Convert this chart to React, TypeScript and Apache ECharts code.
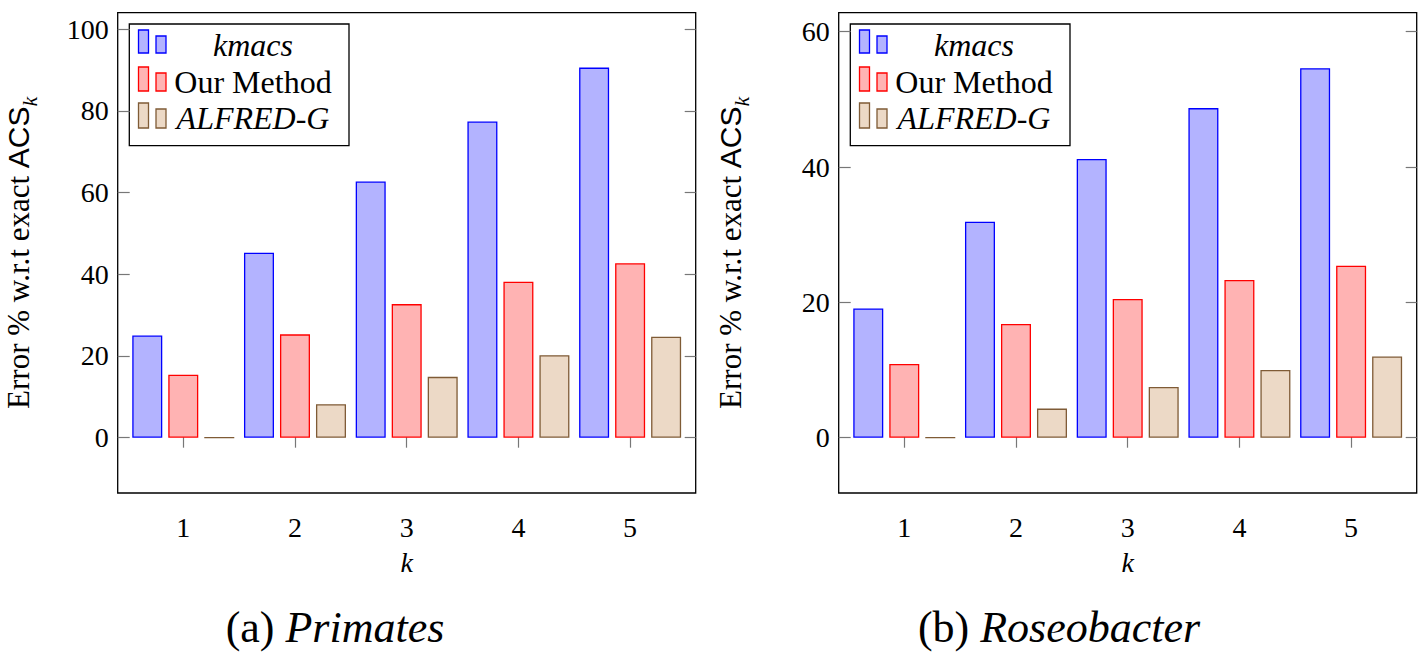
import React, { useEffect, useRef } from 'react';
import * as echarts from 'echarts';

const kValues = [1, 2, 3, 4, 5];
const seriesNames = ['kmacs', 'Our Method', 'ALFRED-G'];
const seriesItalic = [true, false, true];
const primatesKmacs = [25.0, 45.3, 62.7, 77.4, 90.6];
const primatesOurs = [15.4, 25.3, 32.7, 38.2, 42.7];
const primatesAlfred = [0, 8.2, 14.9, 20.2, 24.7];
const roseoKmacs = [19.1, 31.9, 41.2, 48.7, 54.6];
const roseoOurs = [10.9, 16.8, 20.5, 23.3, 25.4];
const roseoAlfred = [0, 4.3, 7.5, 10.0, 12.0];
const primatesYTicks = [0, 20, 40, 60, 80, 100];
const roseoYTicks = [0, 20, 40, 60];
const captionLabels = ['(a) ', '(b) '];
const captionNames = ['Primates', 'Roseobacter'];

const FONT = 'Liberation Serif';
const fills = ['#b3b3ff', '#ffb3b3', '#ecd9c6'];
const strokes = ['#0000ff', '#ff0000', '#7f5b36'];

const panels = [
  { left: 117.7, yMin: -13.54, yMax: 104.04, ticks: primatesYTicks, data: [primatesKmacs, primatesOurs, primatesAlfred], nameGap: 77, caption: 335 },
  { left: 838.7, yMin: -8.17, yMax: 62.8, ticks: roseoYTicks, data: [roseoKmacs, roseoOurs, roseoAlfred], nameGap: 86, caption: 1059 },
];

export default function App() {
  const ref = useRef<HTMLDivElement>(null);
  useEffect(() => {
    if (!ref.current) return;
    const chart = echarts.init(ref.current, null, { renderer: 'svg' });
    const grid: any[] = [];
    const xAxis: any[] = [];
    const yAxis: any[] = [];
    const series: any[] = [];
    const graphic: any[] = [];
    panels.forEach((p, pi) => {
      grid.push({ left: p.left, top: 12.7, width: 578, height: 480.3, show: true, borderColor: '#000', borderWidth: 1.3, backgroundColor: 'transparent', containLabel: false, outerBoundsMode: 'none' });
      const tickStyle = { color: '#777', width: 1.2 };
      xAxis.push({
        type: 'value', gridIndex: pi, position: 'bottom', min: 0.413, max: 5.587,
        axisLine: { show: false }, splitLine: { show: false },
        axisTick: { show: true, customValues: kValues, inside: false, length: 10, lineStyle: tickStyle },
        axisLabel: { show: true, customValues: kValues, margin: 20, fontSize: 28, fontFamily: FONT, color: '#000' },
        name: 'k', nameLocation: 'middle', nameGap: 55,
        nameTextStyle: { fontSize: 28, fontFamily: FONT, fontStyle: 'italic', color: '#000' },
      });
      xAxis.push({
        type: 'value', gridIndex: pi, position: 'top', min: 0.413, max: 5.587,
        axisLine: { show: false }, splitLine: { show: false },
        axisTick: { show: true, customValues: kValues, inside: false, length: 13, lineStyle: tickStyle },
        axisLabel: { show: false },
      });
      yAxis.push({
        type: 'value', gridIndex: pi, position: 'left', min: p.yMin, max: p.yMax,
        axisLine: { show: false }, splitLine: { show: false },
        axisTick: { show: true, customValues: p.ticks, inside: true, length: 12, lineStyle: tickStyle },
        axisLabel: { show: true, customValues: p.ticks, margin: 9, fontSize: 28, fontFamily: FONT, color: '#000' },
        name: '{a|Error % w.r.t exact }{b|ACS}{c|k}', nameLocation: 'middle', nameRotate: 90, nameGap: p.nameGap,
        nameTextStyle: {
          rich: {
            a: { fontSize: 31, fontFamily: FONT, color: '#000', verticalAlign: 'bottom', padding: [0, 0, 7, 0] },
            b: { fontSize: 30, fontFamily: 'Liberation Sans', color: '#000', verticalAlign: 'bottom', padding: [0, 0, 7, 0] },
            c: { fontSize: 22, fontFamily: FONT, fontStyle: 'italic', color: '#000', verticalAlign: 'bottom' },
          },
        },
      });
      yAxis.push({
        type: 'value', gridIndex: pi, position: 'right', min: p.yMin, max: p.yMax,
        axisLine: { show: false }, splitLine: { show: false },
        axisTick: { show: true, customValues: p.ticks, inside: true, length: 11, lineStyle: tickStyle },
        axisLabel: { show: false },
      });
      p.data.forEach((arr, si) => {
        series.push({
          type: 'bar', name: seriesNames[si] + pi, xAxisIndex: pi * 2, yAxisIndex: pi * 2,
          data: kValues.map((k, j) => [k, arr[j]]),
          barWidth: 30, barGap: '20%',
          itemStyle: { color: fills[si], borderColor: strokes[si], borderWidth: 1.3 },
        });
      });
      // legend
      const ox = p.left - 117.7;
      const children: any[] = [
        { type: 'rect', shape: { x: 129.3 + ox, y: 24, width: 219.7, height: 121.7 }, style: { fill: '#fff', stroke: '#000', lineWidth: 1.3 } },
      ];
      const rowTop = [30, 67, 103];
      const rowBottom = [53, 91, 128];
      const textY = [45, 82, 118];
      seriesNames.forEach((nm, si) => {
        children.push({ type: 'rect', shape: { x: 138.5 + ox, y: rowTop[si], width: 10, height: rowBottom[si] - rowTop[si] }, style: { fill: fills[si], stroke: strokes[si], lineWidth: 1.3 } });
        children.push({ type: 'rect', shape: { x: 156 + ox, y: rowTop[si] + 6, width: 10, height: rowBottom[si] - rowTop[si] - 6 }, style: { fill: fills[si], stroke: strokes[si], lineWidth: 1.3 } });
        children.push({ type: 'text', x: 253 + ox, y: textY[si], style: { text: nm, fill: '#000', fontSize: 32, fontFamily: FONT, fontStyle: seriesItalic[si] ? 'italic' : 'normal', align: 'center', verticalAlign: 'middle' } });
      });
      graphic.push({ type: 'group', z: 100, children });
      graphic.push({
        type: 'text', x: p.caption, y: 627,
        style: {
          text: '{n|' + captionLabels[pi] + '}{i|' + captionNames[pi] + '}',
          align: 'center', verticalAlign: 'middle',
          rich: {
            n: { fontSize: 44, lineHeight: 44, fontFamily: FONT, fill: '#000', color: '#000' },
            i: { fontSize: 44, lineHeight: 44, fontFamily: FONT, fontStyle: 'italic', fill: '#000', color: '#000' },
          },
        },
      });
    });
    chart.setOption({ animation: false, backgroundColor: '#fff', grid, xAxis, yAxis, series, graphic });
    return () => chart.dispose();
  }, []);
  return <div ref={ref} style={{ position: 'fixed', left: 0, top: 0, width: 1418, height: 652 }} />;
}
